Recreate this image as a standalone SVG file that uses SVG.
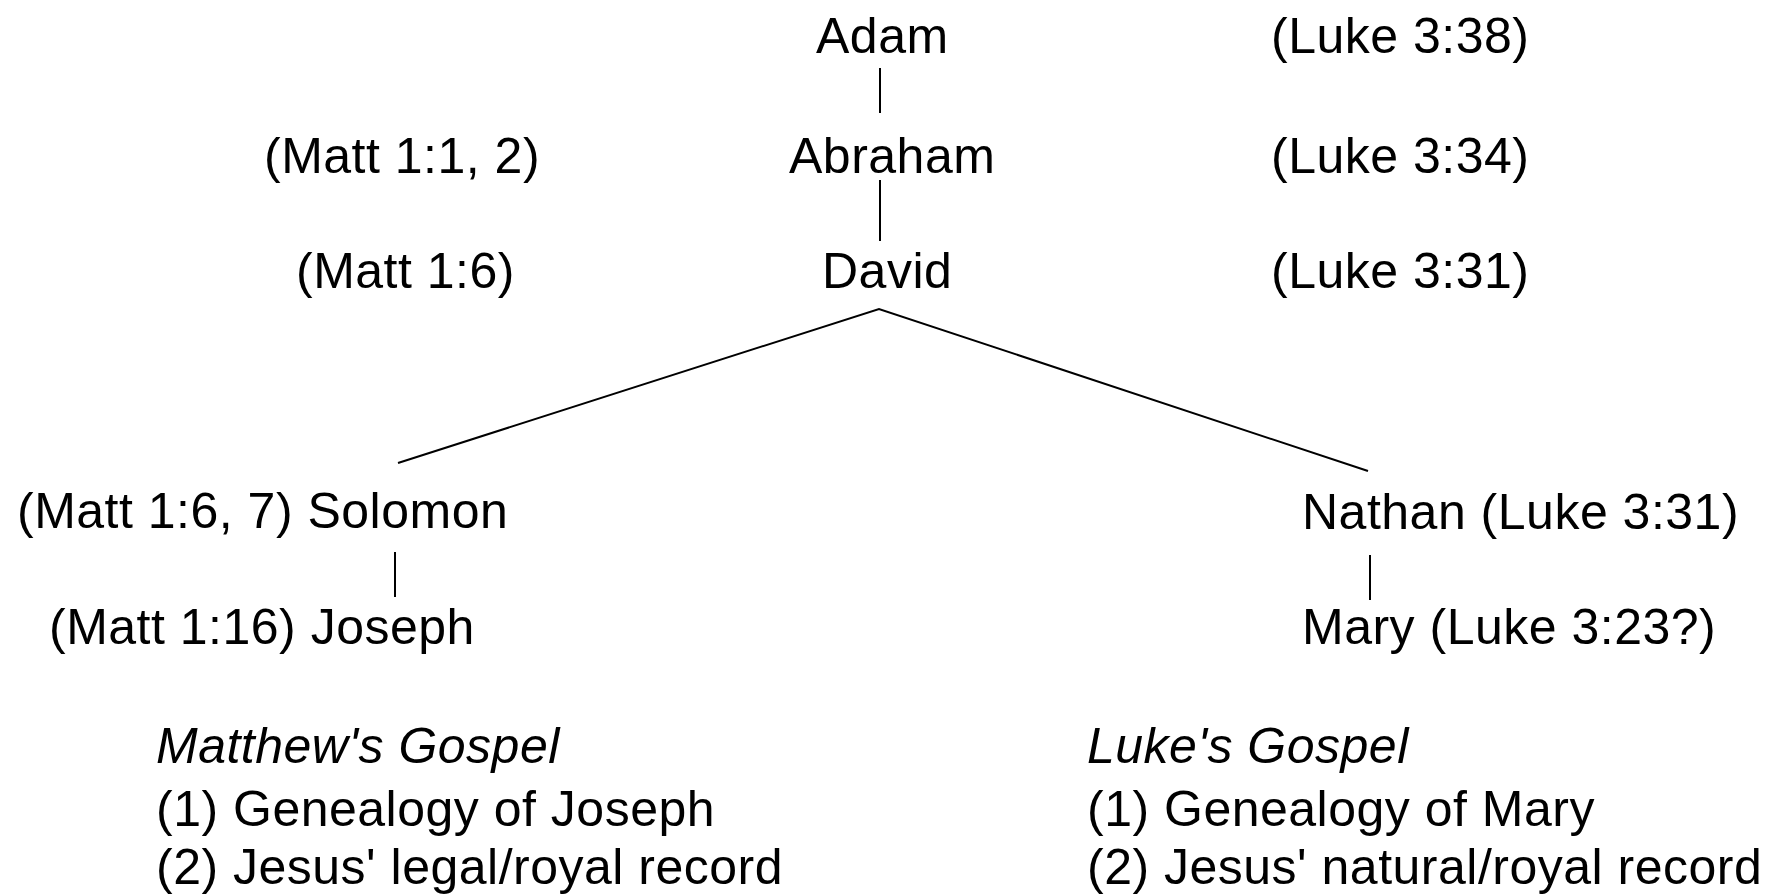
<svg xmlns="http://www.w3.org/2000/svg" width="1775" height="894" viewBox="0 0 1775 894">
<style>
text{font-family:"Liberation Sans",Arial,sans-serif;font-size:50px;fill:#000;letter-spacing:0.5px}
.it{font-style:italic}
.ln{stroke:#000;stroke-width:2;fill:none}
</style>
<rect width="1775" height="894" fill="#fff"/>
<g id="connectors">
<line class="ln" x1="880" y1="68" x2="880" y2="113"/>
<line class="ln" x1="880" y1="180" x2="880" y2="241"/>
<polyline class="ln" points="398,463 879,309 1368,471"/>
<line class="ln" x1="395" y1="552" x2="395" y2="597"/>
<line class="ln" x1="1370" y1="555" x2="1370" y2="600"/>
</g>
<g id="adam"><text x="816" y="53">Adam</text></g>
<g id="ref-luke-338"><text x="1271" y="53">(Luke 3:38)</text></g>
<g id="ref-matt-11"><text x="264" y="173">(Matt 1:1, 2)</text></g>
<g id="abraham"><text x="789" y="173">Abraham</text></g>
<g id="ref-luke-334"><text x="1271" y="173">(Luke 3:34)</text></g>
<g id="ref-matt-16"><text x="296" y="288">(Matt 1:6)</text></g>
<g id="david"><text x="822" y="288">David</text></g>
<g id="ref-luke-331"><text x="1271" y="288">(Luke 3:31)</text></g>
<g id="solomon"><text x="17" y="528">(Matt 1:6, 7) Solomon</text></g>
<g id="nathan"><text x="1302" y="529">Nathan (Luke 3:31)</text></g>
<g id="joseph"><text x="49" y="644">(Matt 1:16) Joseph</text></g>
<g id="mary"><text x="1302" y="644">Mary (Luke 3:23?)</text></g>
<g id="matthew-legend">
<text class="it" x="156" y="763">Matthew's Gospel</text>
<text x="156" y="826">(1) Genealogy of Joseph</text>
<text x="156" y="884">(2) Jesus' legal/royal record</text>
</g>
<g id="luke-legend">
<text class="it" x="1087" y="763">Luke's Gospel</text>
<text x="1087" y="826">(1) Genealogy of Mary</text>
<text x="1087" y="884">(2) Jesus' natural/royal record</text>
</g>
</svg>
